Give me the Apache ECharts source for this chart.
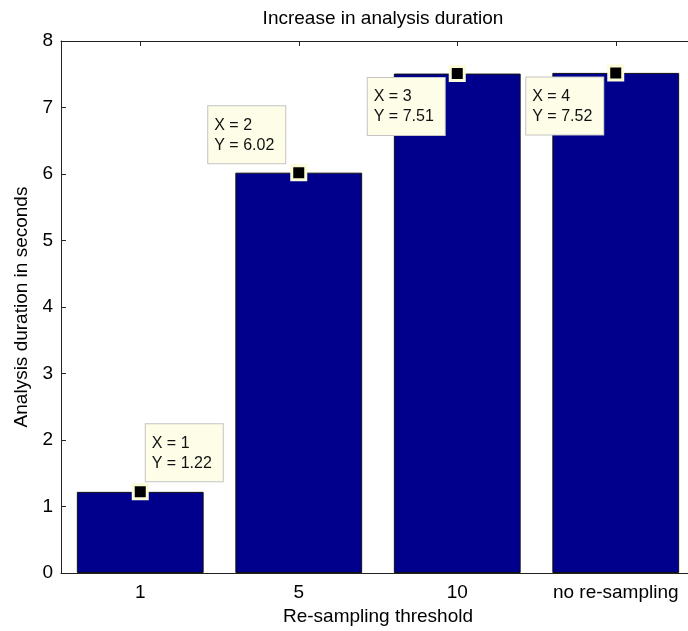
<!DOCTYPE html>
<html>
<head>
<meta charset="utf-8">
<script src="https://cdn.jsdelivr.net/npm/echarts@6/dist/echarts.min.js"></script>
<style>
html,body{margin:0;padding:0;background:#fff;overflow:hidden;width:688px;height:631px;}
#chart{width:695px;height:631px;}
</style>
</head>
<body>
<div id="chart"></div>
<script>
// ---- data ----
var categories = ['1', '5', '10', 'no re-sampling'];
var durations = [1.22, 6.02, 7.51, 7.52];
var tipX = [1, 2, 3, 4];
var yTicks = [0, 1, 2, 3, 4, 5, 6, 7, 8];
var titleText = 'Increase in analysis duration';
var xName = 'Re-sampling threshold';
var yName = 'Analysis duration in seconds';

// ---- styling (placement of the datatip boxes relative to the marker) ----
var tipPlacement = [
  {position: [14, -2], verticalAlign: 'bottom'},
  {position: [-82, -1], verticalAlign: 'bottom'},
  {position: [-81, 13], verticalAlign: 'top'},
  {position: [-81, 13], verticalAlign: 'top'}
];

var FONT = 'Liberation Sans, Arial, sans-serif';
var chart = echarts.init(document.getElementById('chart'), null, {renderer: 'canvas'});

var tipData = durations.map(function (v, i) {
  var p = tipPlacement[i];
  return {
    value: [categories[i], v],
    label: {
      position: p.position,
      align: 'left',
      verticalAlign: p.verticalAlign,
      formatter: 'X = ' + tipX[i] + '\nY = ' + v.toFixed(2)
    }
  };
});

var option = {
  animation: false,
  backgroundColor: '#ffffff',
  title: {
    text: titleText,
    left: 378,
    textAlign: 'center',
    top: 4,
    textStyle: {fontFamily: FONT, fontSize: 19, fontWeight: 'normal', color: '#000'}
  },
  grid: {
    left: 61, top: 41, right: 0, bottom: 58,
    show: false
  },
  xAxis: [{
    type: 'category',
    data: categories,
    position: 'bottom',
    name: xName,
    nameLocation: 'middle',
    nameGap: 32,
    nameTextStyle: {fontFamily: FONT, fontSize: 19, color: '#000'},
    axisLine: {show: true, lineStyle: {color: '#222', width: 1}},
    axisTick: {show: true, inside: true, length: 5, alignWithLabel: true, lineStyle: {color: '#222'}},
    axisLabel: {fontFamily: FONT, fontSize: 19, color: '#000', margin: 10, interval: 0, hideOverlap: false},
    splitLine: {show: false}
  }, {
    type: 'category',
    data: categories,
    position: 'top',
    axisLine: {show: true, lineStyle: {color: '#222', width: 1}},
    axisTick: {show: true, inside: true, length: 5, alignWithLabel: true, lineStyle: {color: '#222'}},
    axisLabel: {show: false},
    splitLine: {show: false}
  }],
  yAxis: [{
    type: 'value',
    min: yTicks[0],
    max: yTicks[yTicks.length - 1],
    interval: 1,
    name: yName,
    nameLocation: 'middle',
    nameGap: 30,
    nameRotate: 90,
    nameTextStyle: {fontFamily: FONT, fontSize: 19, color: '#000'},
    axisLine: {show: true, lineStyle: {color: '#222', width: 1}},
    axisTick: {show: true, inside: true, length: 5, lineStyle: {color: '#222'}},
    axisLabel: {fontFamily: FONT, fontSize: 19, color: '#000', margin: 8},
    splitLine: {show: false}
  }],
  series: [{
    type: 'bar',
    data: durations,
    barWidth: '80%',
    itemStyle: {color: '#00008c', borderColor: '#111', borderWidth: 1},
    z: 2
  }, {
    type: 'scatter',
    data: tipData,
    symbol: 'rect',
    symbolSize: 14,
    itemStyle: {color: '#000000', borderColor: '#fbfbd8', borderWidth: 3, opacity: 1},
    label: {
      show: true,
      fontFamily: FONT,
      fontSize: 16,
      lineHeight: 20,
      color: '#111',
      backgroundColor: '#fefee8',
      borderColor: '#c4c4c4',
      borderWidth: 1,
      padding: [9, 8, 8, 6],
      width: 63
    },
    labelLayout: {hideOverlap: false},
    z: 5
  }]
};
chart.setOption(option);
</script>
</body>
</html>
